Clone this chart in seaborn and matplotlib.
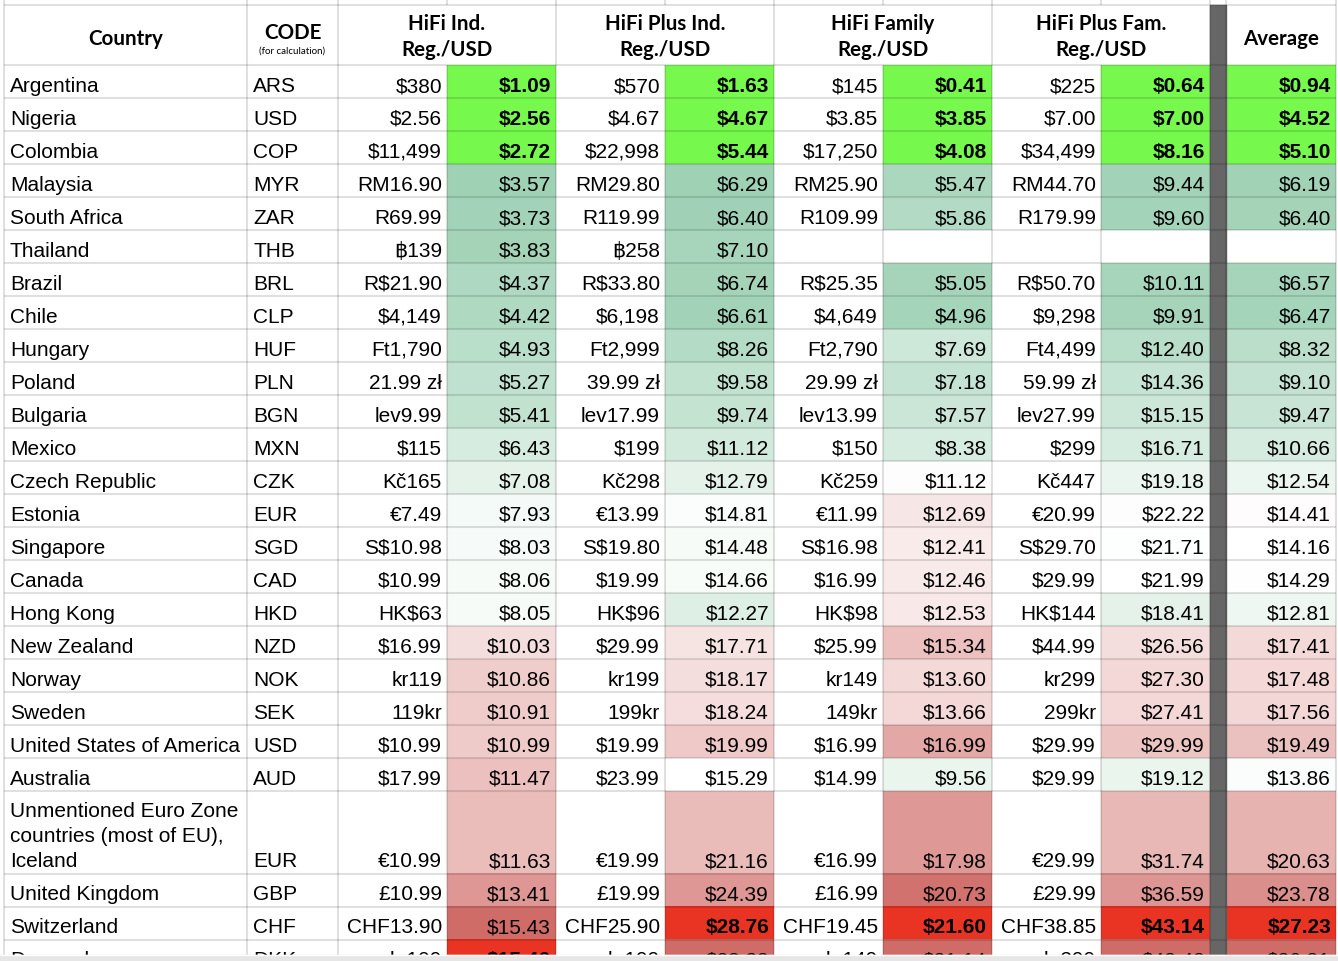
import numpy as np
import pandas as pd
import matplotlib
matplotlib.use("Agg")
import matplotlib.pyplot as plt
from matplotlib.colors import LinearSegmentedColormap, ListedColormap, TwoSlopeNorm
from matplotlib.patches import Rectangle
import seaborn as sns

# ---- values ----
countries = ["Argentina", "Nigeria", "Colombia", "Malaysia", "South Africa", "Thailand",
             "Brazil", "Chile", "Hungary", "Poland", "Bulgaria", "Mexico", "Czech Republic",
             "Estonia", "Singapore", "Canada", "Hong Kong", "New Zealand", "Norway", "Sweden",
             "United States of America", "Australia",
             "Unmentioned Euro Zone\ncountries (most of EU),\nIceland",
             "United Kingdom", "Switzerland", "Denmark"]
codes = ["ARS", "USD", "COP", "MYR", "ZAR", "THB", "BRL", "CLP", "HUF", "PLN", "BGN", "MXN",
         "CZK", "EUR", "SGD", "CAD", "HKD", "NZD", "NOK", "SEK", "USD", "AUD", "EUR", "GBP",
         "CHF", "DKK"]

ind_reg = ["$380", "$2.56", "$11,499", "RM16.90", "R69.99", "\u0e3f139", "R$21.90", "$4,149",
           "Ft1,790", "21.99 zł", "lev9.99", "$115", "Kč165", "€7.49", "S$10.98", "$10.99",
           "HK$63", "$16.99", "kr119", "119kr", "$10.99", "$17.99", "€10.99", "£10.99",
           "CHF13.90", "kr109"]
ind_usd = [1.09, 2.56, 2.72, 3.57, 3.73, 3.83, 4.37, 4.42, 4.93, 5.27, 5.41, 6.43, 7.08,
           7.93, 8.03, 8.06, 8.05, 10.03, 10.86, 10.91, 10.99, 11.47, 11.63, 13.41, 15.43, 15.46]

plus_ind_reg = ["$570", "$4.67", "$22,998", "RM29.80", "R119.99", "\u0e3f258", "R$33.80",
                "$6,198", "Ft2,999", "39.99 zł", "lev17.99", "$199", "Kč298", "€13.99",
                "S$19.80", "$19.99", "HK$96", "$29.99", "kr199", "199kr", "$19.99", "$23.99",
                "€19.99", "£19.99", "CHF25.90", "kr199"]
plus_ind_usd = [1.63, 4.67, 5.44, 6.29, 6.40, 7.10, 6.74, 6.61, 8.26, 9.58, 9.74, 11.12, 12.79,
                14.81, 14.48, 14.66, 12.27, 17.71, 18.17, 18.24, 19.99, 15.29, 21.16, 24.39,
                28.76, 28.22]

fam_reg = ["$145", "$3.85", "$17,250", "RM25.90", "R109.99", "", "R$25.35", "$4,649",
           "Ft2,790", "29.99 zł", "lev13.99", "$150", "Kč259", "€11.99", "S$16.98", "$16.99",
           "HK$98", "$25.99", "kr149", "149kr", "$16.99", "$14.99", "€16.99", "£16.99",
           "CHF19.45", "kr149"]
fam_usd = [0.41, 3.85, 4.08, 5.47, 5.86, np.nan, 5.05, 4.96, 7.69, 7.18, 7.57, 8.38, 11.12,
           12.69, 12.41, 12.46, 12.53, 15.34, 13.60, 13.66, 16.99, 9.56, 17.98, 20.73, 21.60,
           21.14]

plus_fam_reg = ["$225", "$7.00", "$34,499", "RM44.70", "R179.99", "", "R$50.70", "$9,298",
                "Ft4,499", "59.99 zł", "lev27.99", "$299", "Kč447", "€20.99", "S$29.70",
                "$29.99", "HK$144", "$44.99", "kr299", "299kr", "$29.99", "$29.99", "€29.99",
                "£29.99", "CHF38.85", "kr299"]
plus_fam_usd = [0.64, 7.00, 8.16, 9.44, 9.60, np.nan, 10.11, 9.91, 12.40, 14.36, 15.15, 16.71,
                19.18, 22.22, 21.71, 21.99, 18.41, 26.56, 27.30, 27.41, 29.99, 19.12, 31.74,
                36.59, 43.14, 42.42]

avg_usd = [0.94, 4.52, 5.10, 6.19, 6.40, np.nan, 6.57, 6.47, 8.32, 9.10, 9.47, 10.66, 12.54,
           14.41, 14.16, 14.29, 12.81, 17.41, 17.48, 17.56, 19.49, 13.86, 20.63, 23.78, 27.23,
           26.81]

plan_titles = ["HiFi Ind.", "HiFi Plus Ind.", "HiFi Family", "HiFi Plus Fam."]

# ---- layout (pixels) ----
W, H = 1338, 962
col_edges = [4, 247, 338, 447, 556, 665, 774, 883, 992, 1101, 1210, 1226, 1336]
head_top, body_top, unit = 5.5, 66, 16.5
row_units = np.array([2] * 22 + [5] + [2] * 3)
row_bounds = body_top + unit * np.concatenate([[0], np.cumsum(row_units)])
n_units = row_units.sum()

body_font = ["Liberation Sans", "DejaVu Sans"]
head_font = ["Lato", "DejaVu Sans"]

lo_green, hi_red = "#9fd1b5", "#d06c68"
top_green, top_red = "#76f84c", "#e93424"
grad = LinearSegmentedColormap.from_list("sheet", [lo_green, "#ffffff", hi_red])

fig = plt.figure(figsize=(W / 100, H / 100), dpi=100)
fig.patch.set_facecolor("white")

# colour scale per USD column: (values, left edge, width, vmin, midpoint, vmax)
usd_cols = [
    (ind_usd, 447, 109, 3.57, 8.5, 15.43),
    (plus_ind_usd, 665, 109, 6.29, 15.3, 28.22),
    (fam_usd, 883, 109, 4.6, 11.0, 21.14),
    (plus_fam_usd, 1101, 109, 9.0, 22.0, 42.42),
    (avg_usd, 1226, 110, 6.0, 14.2, 26.81),
]


def rep(a):
    return np.repeat(np.asarray(a), row_units).reshape(-1, 1)


bold_cells = {}
for vals, x0, w, vmin, vc, vmax in usd_cols:
    s = pd.Series(vals, dtype=float)
    low3 = s.rank(method="first") <= 3
    top = s == s.max()
    rest = ~(low3 | top)
    bold_cells[x0] = (low3 | top).values

    grid = rep(s.values)
    hax = fig.add_axes([x0 / W, 1 - (body_top + n_units * unit) / H, w / W, n_units * unit / H])
    sns.heatmap(grid, mask=~rep(rest), cmap=grad, norm=TwoSlopeNorm(vc, vmin, vmax),
                cbar=False, ax=hax, xticklabels=False, yticklabels=False)
    sns.heatmap(grid, mask=~rep(low3), cmap=ListedColormap([top_green]), cbar=False,
                ax=hax, xticklabels=False, yticklabels=False)
    sns.heatmap(grid, mask=~rep(top), cmap=ListedColormap([top_red]), cbar=False,
                ax=hax, xticklabels=False, yticklabels=False)
    hax.axis("off")

# ---- overlay: grid, text ----
ax = fig.add_axes([0, 0, 1, 1])
ax.set_xlim(0, W)
ax.set_ylim(H, 0)
ax.axis("off")

ax.add_patch(Rectangle((1210, head_top), 16, H, color="#666666", zorder=1))

line_kw = dict(color="black", alpha=0.12, lw=1.5, zorder=2)
ax.hlines(np.concatenate([[head_top], row_bounds]), 4, 1336, **line_kw)
full_v = [4, 247, 338, 556, 774, 992, 1210, 1226, 1336]
sub_v = [447, 665, 883, 1101]
ax.vlines(full_v, 0, H, **line_kw)
ax.vlines(sub_v, 0, head_top, **line_kw)
ax.vlines(sub_v, body_top, H, **line_kw)

# header
hk = dict(family=head_font, fontsize=14.8, fontweight="bold", ha="center", va="baseline", zorder=3)
ax.text((4 + 247) / 2, 45, "Country", **hk)
ax.text((247 + 338) / 2, 39, "CODE", **hk)
ax.text((247 + 338) / 2, 54, "(for calculation)", family=head_font, fontsize=7,
        ha="center", va="baseline", zorder=3)
for k, title in enumerate(plan_titles):
    xc = col_edges[2 + 2 * k + 1]
    ax.text(xc, 30.5, title, **hk)
    ax.text(xc, 56, "Reg./USD", **hk)
ax.text((1226 + 1336) / 2, 45, "Average", **hk)

# body
bk = dict(family=body_font, fontsize=15, va="baseline", zorder=3)
reg_cols = [(ind_reg, 447), (plus_ind_reg, 665), (fam_reg, 883), (plus_fam_reg, 1101)]
for i in range(len(countries)):
    yb = row_bounds[i + 1] - 7
    for j, line in enumerate(reversed(countries[i].split("\n"))):
        ax.text(10, yb - 25 * j, line, ha="left", **bk)
    ax.text(253, yb, codes[i], ha="left", **bk)
    for regs, xr in reg_cols:
        ax.text(xr - 5, yb, regs[i], ha="right", **bk)
    for vals, x0, w, *_ in usd_cols:
        v = vals[i]
        if np.isnan(v):
            continue
        ax.text(x0 + w - 5, yb, f"${v:.2f}", ha="right",
                fontweight="bold" if bold_cells[x0][i] else "normal", **bk)

# scroll bar strip at the bottom edge (the last row is cut off there, as in the sheet view)
ax.add_patch(Rectangle((0, 956), W, 10, color="#e6e6e6", zorder=4))
ax.hlines(956, 0, W, color="white", lw=1, zorder=5)

fig.savefig("out.png", dpi=100, facecolor="white")
